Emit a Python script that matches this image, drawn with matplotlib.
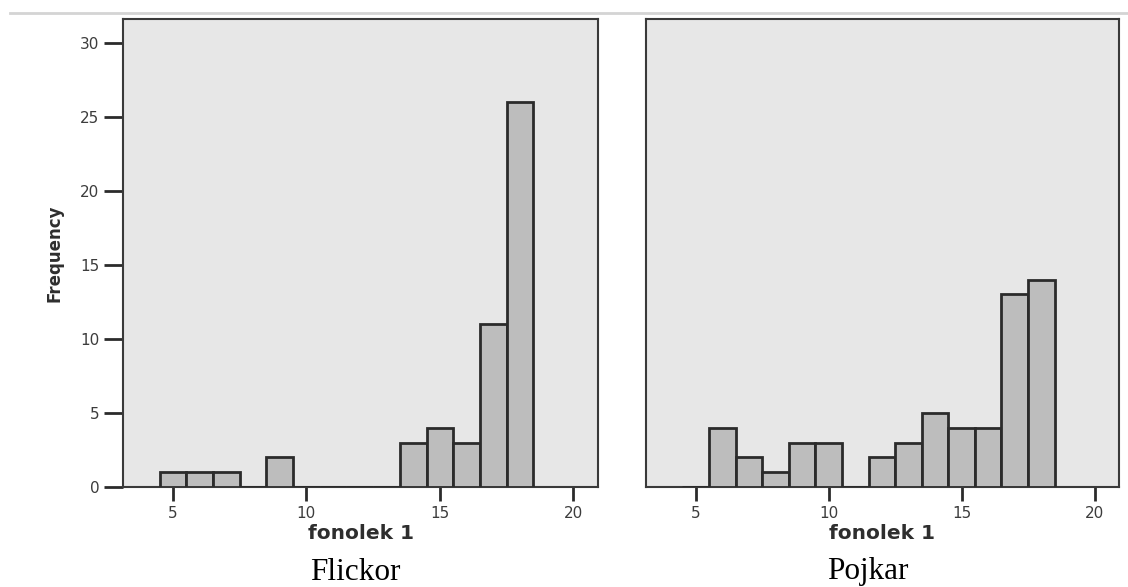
import matplotlib
matplotlib.use("Agg")
import matplotlib.pyplot as plt
from matplotlib.lines import Line2D

# ---- data ----
bins = [5, 6, 7, 8, 9, 10, 11, 12, 13, 14, 15, 16, 17, 18]
flickor = [1, 1, 1, 0, 2, 0, 0, 0, 0, 3, 4, 3, 11, 26]
pojkar = [0, 4, 2, 1, 3, 3, 0, 2, 3, 5, 4, 4, 13, 14]
xticks = [5, 10, 15, 20]
yticks = [0, 5, 10, 15, 20, 25, 30]
xlabel = "fonolek 1"
ylabel = "Frequency"
titles = ["Flickor", "Pojkar"]

W, H = 1128, 587
fig = plt.figure(figsize=(W / 100, H / 100), dpi=100)
fig.patch.set_facecolor("white")

def ax_rect(x0, x1, y_top, y_bot):
    return [x0 / W, 1 - y_bot / H, (x1 - x0) / W, (y_bot - y_top) / H]

ax1 = fig.add_axes(ax_rect(123, 598, 19, 487))
ax2 = fig.add_axes(ax_rect(646, 1119, 19, 487))

bg = "#e7e7e7"
bar_fc = "#bdbdbd"
edge = "#2b2b2b"
frame = "#3a3a3a"
txt = "#3c3c3c"

for ax, counts in ((ax1, flickor), (ax2, pojkar)):
    ax.set_facecolor(bg)
    ax.bar(bins, counts, width=1.0, color=bar_fc, edgecolor=edge,
           linewidth=2.0, align="center", zorder=3)
    ax.set_xlim(3.13, 20.92)
    ax.set_ylim(0, 31.6)
    ax.set_xticks(xticks)
    ax.set_xticklabels([str(t) for t in xticks], fontsize=11,
                       color=txt, family="DejaVu Sans")
    ax.tick_params(axis="x", direction="out", length=10, width=2,
                   color=edge, pad=4)
    for s in ax.spines.values():
        s.set_color(frame)
        s.set_linewidth(1.5)
    ax.set_xlabel(xlabel, fontsize=14.5, fontweight="bold", color="#2e2e2e",
                  family="DejaVu Sans")
    ax.xaxis.set_label_coords(0.5, -0.08)

ax1.set_yticks(yticks)
ax1.set_yticklabels([str(t) for t in yticks], fontsize=11, color=txt,
                    family="DejaVu Sans")
ax1.tick_params(axis="y", direction="out", length=14, width=2,
                color=edge, pad=3)
ax1.set_ylabel(ylabel, fontsize=12, fontweight="bold", color="#2e2e2e",
               family="DejaVu Sans")
ax1.yaxis.set_label_coords(-0.125, 0.5)

ax2.set_yticks([])

# captions below panels
fig.text(355 / W, 1 - 572 / H, titles[0], ha="center", va="center",
         fontsize=22.5, family="Liberation Serif", color="black")
fig.text(868 / W, 1 - 572 / H, titles[1], ha="center", va="center",
         fontsize=22.5, family="Liberation Serif", color="black")

# faint page edge line at top of scan
fig.add_artist(Line2D([10 / W, 1.0], [1 - 13 / H, 1 - 13 / H],
                      color="#d4d4d4", linewidth=2.0))

fig.savefig("out.png", dpi=100)
